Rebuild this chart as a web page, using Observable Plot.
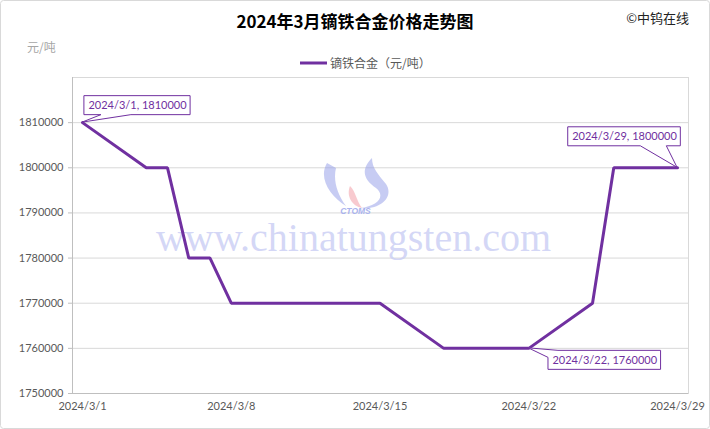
<!DOCTYPE html>
<html><head><meta charset="utf-8">
<script src="https://cdn.jsdelivr.net/npm/d3@7"></script>
<script src="https://cdn.jsdelivr.net/npm/@observablehq/plot@0.6"></script>
<style>body{margin:0;background:#fff;} svg{display:block;}</style>
</head><body>
<div id="chart"></div>
<script>
const dates = ["2024-03-01","2024-03-04","2024-03-05","2024-03-06","2024-03-07","2024-03-08","2024-03-11","2024-03-12","2024-03-13","2024-03-14","2024-03-15","2024-03-18","2024-03-19","2024-03-20","2024-03-21","2024-03-22","2024-03-25","2024-03-26","2024-03-27","2024-03-28","2024-03-29"];
const prices = [1810000,1800000,1800000,1780000,1780000,1770000,1770000,1770000,1770000,1770000,1770000,1760000,1760000,1760000,1760000,1760000,1770000,1800000,1800000,1800000,1800000];
const xTicks = ["2024-03-01","2024-03-08","2024-03-15","2024-03-22","2024-03-29"];
const yTicks = [1750000,1760000,1770000,1780000,1790000,1800000,1810000];
const calloutDates = ["2024-03-01","2024-03-29","2024-03-22"];
const seriesName = "镝铁合金（元/吨）";
const title = "2024年3月镝铁合金价格走势图";
const unitLabel = "元/吨";
const credit = "©中钨在线";

const parse = s => new Date(s + "T00:00:00Z");
const data = dates.map((d, i) => ({date: parse(d), price: prices[i]}));
const fmtDate = d => `${d.getUTCFullYear()}/${d.getUTCMonth()+1}/${d.getUTCDate()}`;
const callouts = calloutDates.map(s => data.find(d => +d.date === +parse(s)));
const H = 3600e3;
const xDomain = [new Date(+parse("2024-03-01") - 11.3*H), new Date(+parse("2024-03-29") + 12.4*H)];
const purple = "#7030A0";
const calloutOffsets = [[55,-17],[-53,-31],[76,12]];

const chart = Plot.plot({
  width: 710, height: 429,
  marginLeft: 72, marginRight: 22, marginTop: 77, marginBottom: 36,
  style: {fontFamily: "Lato, sans-serif", fontSize: "11px", color: "#595959", background: "#fff"},
  x: {type: "utc", domain: xDomain},
  y: {domain: [1750000, 1820000]},
  marks: [
    Plot.frame({stroke: "#d9d9d9"}),
    Plot.gridY(yTicks.slice(1), {stroke: "#d9d9d9", strokeOpacity: 1}),
    Plot.text(["www.chinatungsten.com"], {frameAnchor: "middle", dx: -27, dy: 3, fontFamily: "Liberation Serif, serif", fontSize: 40, fill: "#c9cdf4", fillOpacity: 0.8}),
    Plot.text(["CTOMS"], {frameAnchor: "middle", dx: -25, dy: -24, fontFamily: "Liberation Sans, sans-serif", fontStyle: "italic", fontWeight: "bold", fontSize: 8.5, fill: "#aab3ee"}),
    Plot.ruleX([xDomain[0]], {stroke: "#bfbfbf"}),
    Plot.ruleY([1750000], {stroke: "#bfbfbf"}),
    Plot.axisY({ticks: yTicks, tickFormat: d => String(d), tickSize: 4, tickPadding: 5, stroke: "#bfbfbf", label: null, fontSize: 11}),
    Plot.axisX({ticks: xTicks.map(parse), tickFormat: fmtDate, tickSize: 0, tickPadding: 9, label: null, fontSize: 11}),
    Plot.line(data, {x: "date", y: "price", stroke: purple, strokeWidth: 3, strokeLinejoin: "miter"}),
    ...callouts.map((c, i) => Plot.text([c], {x: "date", y: "price", text: d => `${fmtDate(d.date)}, ${d.price}`, dx: calloutOffsets[i][0], dy: calloutOffsets[i][1], fill: purple, fontSize: 11, className: "callout" + i}))
  ]
});
document.getElementById("chart").append(chart);

const svg = d3.select(chart);
const xs = chart.scale("x"), ys = chart.scale("y");
svg.insert("rect", ":first-child").attr("x", 0.5).attr("y", 0.5).attr("width", 709).attr("height", 428).attr("rx", 3).attr("fill", "#fff").attr("stroke", "#d9d9d9");
svg.append("text").attr("x", 355).attr("y", 28).attr("text-anchor", "middle").attr("font-family", "'Noto Sans CJK SC', sans-serif").attr("font-weight", "bold").attr("font-size", 17).attr("fill", "#000").text(title);
svg.append("text").attr("x", 689).attr("y", 23).attr("text-anchor", "end").attr("font-family", "'Noto Sans CJK SC', sans-serif").attr("font-size", 13).attr("fill", "#222").text(credit);
svg.append("text").attr("x", 27).attr("y", 52).attr("text-anchor", "start").attr("font-family", "'Noto Sans CJK SC', sans-serif").attr("font-size", 12).attr("fill", "#a6a6a6").text(unitLabel);
svg.append("line").attr("x1", 300).attr("x2", 327).attr("y1", 63).attr("y2", 63).attr("stroke", purple).attr("stroke-width", 3);
svg.append("text").attr("x", 330).attr("y", 67.5).attr("text-anchor", "start").attr("font-family", "'Noto Sans CJK SC', sans-serif").attr("font-size", 12).attr("fill", "#595959").text(seriesName);

// logo approximation
const lg = svg.insert("g", ".callout0").attr("opacity", 0.55);
lg.append("path").attr("d", "M327,163 C318,178 330,196 346,206 C337,194 333,180 336,168 Z").attr("fill", "#9aa3ea");
lg.append("path").attr("d", "M372,158 C360,170 364,180 376,188 C386,196 378,206 360,208 C382,210 394,196 386,184 C378,174 372,168 372,158 Z").attr("fill", "#9aa3ea");
lg.append("path").attr("d", "M350,186 C346,196 352,206 362,208 C356,200 356,192 350,186 Z").attr("fill", "#f4a0a8");

// callout boxes
const boxes = svg.insert("g", ".callout0");
callouts.forEach((c, i) => {
  const t = chart.querySelector(".callout" + i + " text");
  if (!t) return;
  const w = t.getComputedTextLength();
  const px = xs.apply(c.date), py = ys.apply(c.price);
  const cx = px + calloutOffsets[i][0], cy = py + calloutOffsets[i][1];
  const l = cx - w/2 - 4, r = cx + w/2 + 4, tp = cy - 9.5, bt = cy + 9.5;
  let d;
  if (i === 0) d = `M${l},${tp}H${r}V${bt}H${l+47}L${px},${py}L${l+17},${bt}H${l}Z`;
  else if (i === 1) d = `M${l},${tp}H${r}V${bt}H${r-14}L${px},${py}L${r-40},${bt}H${l}Z`;
  else d = `M${px},${py}L${l+10},${tp}H${r}V${bt}H${l}V${tp+7}Z`;
  boxes.append("path").attr("d", d).attr("fill", "#fff").attr("stroke", purple).attr("stroke-width", 1);
});
</script>
</body></html>
